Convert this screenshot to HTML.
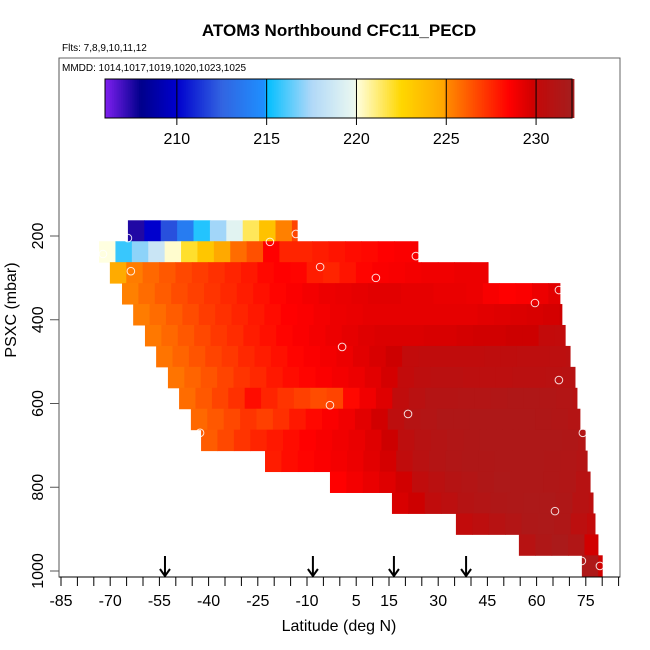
<!DOCTYPE html>
<html><head><meta charset="utf-8"><style>
body{margin:0;background:#fff;}
svg{display:block;font-family:"Liberation Sans",Arial,sans-serif;}
</style></head><body>
<svg id="chart" width="650" height="650" viewBox="0 0 650 650" xmlns="http://www.w3.org/2000/svg">
<text x="339" y="36" text-anchor="middle" font-size="17" font-weight="bold">ATOM3 Northbound CFC11_PECD</text>
<text x="62" y="51" font-size="10">Flts: 7,8,9,10,11,12</text>
<rect x="59" y="58" width="561" height="519" fill="none" stroke="#666" stroke-width="1"/>
<text x="62" y="71" font-size="10">MMDD: 1014,1017,1019,1020,1023,1025</text>
<g id="cbar"></g>
<g id="heat"></g>
<g id="pts"></g>
<g id="arrows"></g>
<g id="axes"></g>
<text x="339" y="631" text-anchor="middle" font-size="16">Latitude (deg N)</text>
<text transform="translate(16,310) rotate(-90)" text-anchor="middle" font-size="16">PSXC (mbar)</text>
</svg>
<script>
const rowTops=[162.5,212.5,262.5,312.5,362.5,412.5,462.5,512.5,562.5,612.5,662.5,712.5,762.5,812.5,862.5,912.5,962.5];
const rowStart=[-64.6,-73.4,-70.1,-66.4,-63.0,-59.4,-56.0,-52.4,-49.0,-45.4,-42.3,-22.8,-3.0,15.9,35.4,54.6,73.8];
const rowEnd=[-13.0,23.8,45.2,67.1,67.7,68.7,70.2,71.7,72.3,73.2,74.8,75.4,76.3,77.2,77.8,78.7,80.0];
const rowVals=[
[207.5,210,212,213.8,215.5,217.3,219.5,221.5,223.5,225.3,226.8],
[220,215.8,217,218.5,220.2,222,223.3,224.7,225.8,226.5,228.5,227.6,227.6,227.8,228,228.2,228.3,228.5,228.6,228.7],
[224.6,225.4,225.9,226.3,226.7,227,227.3,227.6,227.9,228.3,228.5,228.4,227.8,227.6,228,228.4,228.6,228.7,228.8,228.9,228.9,229,229,229],
[225.3,225.8,226.2,226.6,226.9,227.2,227.5,227.8,228.1,228.4,228.6,228.8,229,229.1,229.2,229.3,229.3,229.2,229.2,229.1,229.1,229,228.7,228.5,228.6,229,229.3],
[225.4,225.8,226.2,226.6,227,227.3,227.6,227.9,228.2,228.5,228.6,228.8,229,229.1,229.2,229.2,229.2,229.2,229.2,229.2,229.2,229.3,229.4,229.5,229.6,229.7,229.9],
[225.5,225.9,226.3,226.7,227.1,227.4,227.8,228.1,228.4,228.6,228.8,229,229.2,229.4,229.5,229.5,229.5,229.6,229.6,229.7,229.8,229.8,229.9,229.9,230,230.1],
[225.6,226,226.4,226.8,227.1,227.5,227.8,228.1,228.4,228.6,228.8,229,229.3,229.6,229.9,230.1,230.2,230.2,230.2,230.2,230.3,230.3,230.4,230.4,230.5,230.6],
[225.6,226,226.4,226.8,227.2,227.5,227.9,228.2,228.4,228.6,228.8,229,229.3,229.7,230.1,230.4,230.6,230.6,230.5,230.5,230.5,230.6,230.6,230.7,230.8],
[225.8,226.3,226.8,227.3,228.2,227.6,227.2,226.9,226.6,226.8,228.3,228.9,229.4,230.2,230.7,231,231,231.1,231.1,231.2,231.3,231.3,231.2,231.1,230.8],
[225.9,226.3,226.7,227.2,226.9,227.3,227.9,228.3,228.6,228.9,229.3,229.8,230.4,230.9,231.1,231.3,231.3,231.4,231.4,231.4,231.4,231.3,231.2,231.0],
[226.2,226.7,227.2,227.6,227.9,228.2,228.5,228.7,228.9,229.1,229.4,229.9,230.4,230.8,231,231.2,231.3,231.4,231.4,231.4,231.4,231.4,231.3,231.1],
[227.8,228.2,228.4,228.6,228.8,229,229.3,229.7,230.2,230.7,231,231.2,231.3,231.3,231.4,231.4,231.4,231.3,231.2,231],
[228.5,228.8,229.1,229.4,229.8,230.2,230.6,230.9,231.1,231.3,231.5,231.4,231.4,231.3,231.2,230.8],
[229.6,229.9,230.2,230.5,230.9,231.1,231.3,231.4,231.5,231.5,231.3,230.8,230.5],
[230.1,230.4,230.8,231.1,231.4,231.5,231.3,230.5,230],
[230.8,231.3,231.6,231.2,229.8],
[231.4,229.8]
];
const ptLat=[-64.6,-13.4,-21.3,23.2,-72.2,-63.7,-6.0,11.0,59.5,66.8,0.7,66.8,-3.0,20.8,-42.6,74.1,65.6,73.8,79.3];
const ptP=[205,195,214,248,243,284,274,300,360,329,465,544,604,625,670,670,857,976,988];
const arrowLat=[-53.3,-8.2,16.5,38.5];
const xTickLabels=[-85,-70,-55,-40,-25,-10,5,15,30,45,60,75];
const yTickLabels=[200,400,600,800,1000];
const cbarTicks=[210,215,220,225,230];

const NS='http://www.w3.org/2000/svg';
const X=lat=>61+(lat+85)*3.28;
const Y=p=>236+(p-200)*0.41875;
const CB=v=>105+(v-206)*(467/26);
function mk(tag,attrs,parent){const e=document.createElementNS(NS,tag);for(const k in attrs)e.setAttribute(k,attrs[k]);parent.appendChild(e);return e;}
const stops=[[206,[127,31,239]],[208,[0,0,139]],[210,[0,0,205]],[212.5,[50,100,225]],[214.9,[30,144,255]],[215,[0,191,255]],[217.5,[176,216,248]],[219.9,[235,248,240]],[220,[255,255,224]],[222.5,[255,215,0]],[224.9,[255,165,0]],[225,[255,140,0]],[227.5,[255,40,0]],[228.5,[255,0,0]],[229.9,[205,0,0]],[230,[195,10,10]],[232,[165,30,30]]];
function col(v){if(v<=stops[0][0])return 'rgb('+stops[0][1]+')';for(let i=1;i<stops.length;i++){if(v<=stops[i][0]){const a=stops[i-1],b=stops[i];const t=(v-a[0])/(b[0]-a[0]);const c=a[1].map((x,j)=>Math.round(x+(b[1][j]-x)*t));return 'rgb('+c+')';}}return 'rgb('+stops[stops.length-1][1]+')';}

const cb=document.getElementById('cbar');
for(let v=206;v<232;v+=0.1){
 const r=mk('rect',{x:CB(v),y:79,width:CB(v+0.1)-CB(v)+0.6,height:39,fill:col(v+0.05)},cb);
 
 
}
mk('rect',{x:105,y:79,width:467,height:39,fill:'none',stroke:'#000','stroke-width':1},cb);
cbarTicks.forEach(t=>{
 mk('line',{x1:CB(t),x2:CB(t),y1:79,y2:125,stroke:'#000','stroke-width':1},cb);
 const tx=mk('text',{x:CB(t),y:144,'text-anchor':'middle','font-size':16},cb);
 tx.textContent=t;
 
 
});

const hg=document.getElementById('heat');
rowVals.forEach((vals,r)=>{
 const y0=Y(rowTops[r]),y1=Y(rowTops[r]+50);
 vals.forEach((v,k)=>{
  const a=rowStart[r]+5*k,b=Math.min(rowStart[r]+5*(k+1),rowEnd[r]);
  const c=mk('rect',{x:X(a),y:y0,width:X(b)-X(a)+0.5,height:y1-y0+0.5,fill:col(v)},hg);
  
  
 });
});

const pg=document.getElementById('pts');
ptLat.forEach((lat,i)=>{
 const c=mk('circle',{cx:X(lat),cy:Y(ptP[i]),r:3.8,fill:'none',stroke:'#fff','stroke-opacity':0.85,'stroke-width':1},pg);
 
 
});

const ag=document.getElementById('arrows');
arrowLat.forEach(lat=>{
 const x=X(lat);
 const g=mk('g',{},ag);
 
 
 mk('line',{x1:x,x2:x,y1:556,y2:576,stroke:'#000','stroke-width':2},g);
 mk('polyline',{points:(x-5)+',569 '+x+',576 '+(x+5)+',569',fill:'none',stroke:'#000','stroke-width':2},g);
});

const ax=document.getElementById('axes');
mk('line',{x1:59,x2:620,y1:577,y2:577,stroke:'#000','stroke-width':1},ax);
for(let lat=-85;lat<=85;lat+=5){
 mk('line',{x1:X(lat),x2:X(lat),y1:577,y2:586,stroke:'#000','stroke-width':1},ax);
}
xTickLabels.forEach(t=>{
 const tx=mk('text',{x:X(t),y:606,'text-anchor':'middle','font-size':16},ax);
 tx.textContent=t;
 
 
});
mk('line',{x1:59,x2:59,y1:58,y2:577,stroke:'#555','stroke-width':1},ax);
yTickLabels.forEach(t=>{
 mk('line',{x1:50,x2:59,y1:Y(t),y2:Y(t),stroke:'#555','stroke-width':1},ax);
 const tx=mk('text',{x:0,y:0,'text-anchor':'middle','font-size':16,transform:'translate(43,'+Y(t)+') rotate(-90)'},ax);
 tx.textContent=t;
 
 
});
</script>
</body></html>
